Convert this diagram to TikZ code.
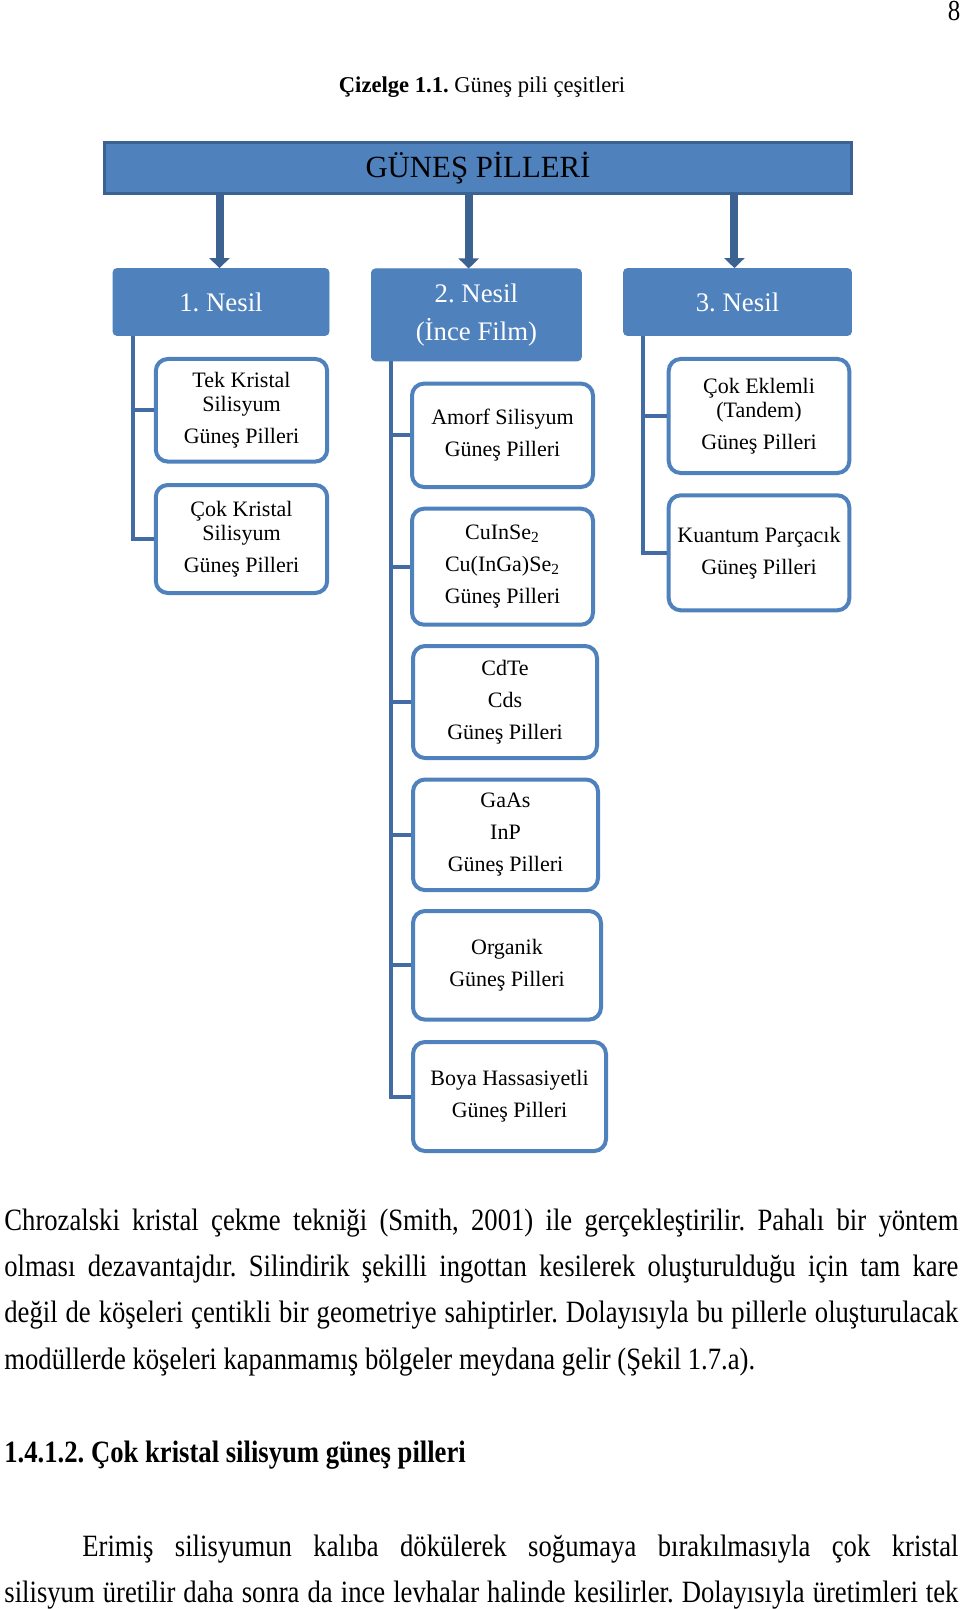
\documentclass[tikz,border=0pt]{standalone}
\usepackage{fontspec}
\setmainfont{Liberation Serif}
\newfontfamily\bodyfont[FakeStretch=0.86]{Liberation Serif}
\usepackage{xcolor}
\usetikzlibrary{arrows.meta}
\definecolor{pvblue}{RGB}{79,129,189}
\definecolor{pvdark}{RGB}{60,98,145}
\definecolor{pvline}{RGB}{66,108,163}
\frenchspacing

\begin{document}
\begin{tikzpicture}[x=0.5pt,y=-0.5pt,
    titlebox/.style={fill=pvblue, draw=pvdark, line width=1.5pt,
                     minimum width=373.5pt, minimum height=25.5pt,
                     font=\fontsize{15.4}{18}\selectfont},
    genbox/.style 2 args={fill=pvblue, draw=pvblue, rounded corners=2pt,
                          text=white, align=center,
                          minimum width=#1, minimum height=#2,
                          font=\fontsize{13.4}{19}\selectfont},
    cellbox/.style 2 args={fill=white, draw=pvblue, line width=2pt,
                           rounded corners=6pt, align=center, inner sep=0pt,
                           minimum width=#1, minimum height=#2,
                           font=\fontsize{11}{16}\selectfont},
    tree/.style={draw=pvline, line width=2pt},
    arr/.style={draw=pvdark, line width=4pt, -{Triangle[width=10pt,length=5pt]}},
    txt/.style={anchor=base west, inner sep=0pt, font=\bodyfont\fontsize{15.5}{18}\selectfont}
  ]
  \fill[white] (0,0) rectangle (960,1609);

  % page head
  \node[anchor=base, inner sep=0pt, font=\bodyfont\fontsize{14.5}{16}\selectfont] (pagenum) at (954,21) {8};
  \node[anchor=base, inner sep=0pt, font=\fontsize{11.3}{14}\selectfont] (caption) at (482,93)
    {\textbf{Çizelge 1.1.} Güneş pili çeşitleri};

  % top and generations
  \node[titlebox] (title) at (478,167.7) {GÜNEŞ PİLLERİ};
  \node[genbox={108pt}{33.5pt}] (gen1) at (221,302) {1. Nesil};
  \node[genbox={105pt}{46pt}] (gen2) at (476.4,314.9) {2. Nesil\\(İnce Film)};
  \node[genbox={114pt}{33.5pt}] (gen3) at (737.5,302) {3. Nesil};

  \foreach \g/\s in {gen1/-0.75pt, gen2/-3.85pt, gen3/-1.55pt}
    \draw[arr] ([xshift=\s]\g.north |- title.south) -- ([xshift=\s]\g.north);

  % 1. Nesil
  \node[cellbox={85.7pt}{51.3pt}] (tek) at (241.5,410.3) {Tek Kristal\\[-4.2pt]Silisyum\\Güneş Pilleri};
  \node[cellbox={85.7pt}{54pt}] (cokk) at (241.5,539) {Çok Kristal\\[-4.2pt]Silisyum\\Güneş Pilleri};

  % 2. Nesil
  \node[cellbox={90.5pt}{51.7pt}] (amorf) at (502.5,435.3) {Amorf Silisyum\\Güneş Pilleri};
  \node[cellbox={90.5pt}{58pt}] (cis) at (502.5,566.7) {CuInSe\textsubscript{2}\\Cu(InGa)Se\textsubscript{2}\\Güneş Pilleri};
  \node[cellbox={92pt}{56pt}] (cdte) at (505,702) {CdTe\\Cds\\Güneş Pilleri};
  \node[cellbox={92.5pt}{55.3pt}] (gaas) at (505.5,834.8) {GaAs\\InP\\Güneş Pilleri};
  \node[cellbox={94pt}{54.3pt}] (organik) at (507,965.3) {Organik\\Güneş Pilleri};
  \node[cellbox={96.5pt}{54.5pt}] (boya) at (509.5,1096.5) {Boya Hassasiyetli\\Güneş Pilleri};

  % 3. Nesil
  \node[cellbox={90.3pt}{57pt}] (eklemli) at (759,416) {Çok Eklemli\\[-4.2pt](Tandem)\\Güneş Pilleri};
  \node[cellbox={90.3pt}{57.5pt}] (kuantum) at (759,552.8) {Kuantum Parçacık\\Güneş Pilleri};

  \foreach \c in {tek,cokk}
    \draw[tree] ([xshift=10pt]gen1.south west) |- (\c.west);
  \foreach \c in {amorf,cis,cdte,gaas,organik,boya}
    \draw[tree] ([xshift=10pt]gen2.south west) |- (\c.west);
  \foreach \c in {eklemli,kuantum}
    \draw[tree] ([xshift=10pt]gen3.south west) |- (\c.west);

  % running text
  \node[txt] (line1) at (4,1230) {\makebox[477pt][s]{Chrozalski kristal çekme tekniği (Smith, 2001) ile gerçekleştirilir. Pahalı bir yöntem}};
  \node[txt] (line2) at (4,1276.3) {\makebox[477pt][s]{olması dezavantajdır. Silindirik şekilli ingottan kesilerek oluşturulduğu için tam kare}};
  \node[txt] (line3) at (4,1322.6) {\makebox[477pt][s]{değil de köşeleri çentikli bir geometriye sahiptirler. Dolayısıyla bu pillerle oluşturulacak}};
  \node[txt] (line4) at (4,1369) {modüllerde köşeleri kapanmamış bölgeler meydana gelir (Şekil 1.7.a).};
  \node[txt, font=\bodyfont\bfseries\fontsize{15.5}{18}\selectfont] (heading) at (4,1462.5)
    {1.4.1.2. Çok kristal silisyum güneş pilleri};
  \node[txt] (line5) at (82,1556) {\makebox[438pt][s]{Erimiş silisyumun kalıba dökülerek soğumaya bırakılmasıyla çok kristal}};
  \node[txt] (line6) at (4,1602) {\makebox[477pt][s]{silisyum üretilir daha sonra da ince levhalar halinde kesilirler. Dolayısıyla üretimleri tek}};
\end{tikzpicture}
\end{document}
